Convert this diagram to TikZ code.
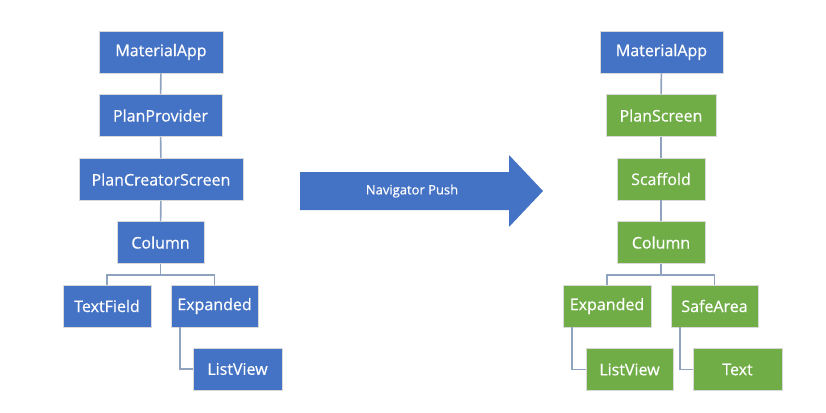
\documentclass[tikz,border=0pt]{standalone}
\usepackage{fontspec}
\setmainfont{Open Sans}
\newfontfamily\boxfont{Open Sans}[FakeBold=0.5]
\definecolor{fblue}{HTML}{4472C4}
\definecolor{fgreen}{HTML}{70AD47}
\definecolor{conn}{HTML}{8FA2BE}
\begin{document}
\begin{tikzpicture}[x=1pt,y=-1pt,
  box/.style={draw=white!85!black,line width=0.6pt,text=white,inner sep=0pt,
    font=\boxfont\fontsize{16}{18}\selectfont,minimum height=42pt},
  bbox/.style={box,fill=fblue},
  gbox/.style={box,fill=fgreen},
  link/.style={draw=conn,line width=1.6pt}]
\useasboundingbox (0,0) rectangle (826,412);
% left tree
\node[bbox,minimum width=124pt] (lma) at (161,52) {MaterialApp};
\node[bbox,minimum width=123pt] (lpp) at (160.5,115.5) {PlanProvider};
\node[bbox,minimum width=164pt] (lpcs) at (161,179.5) {PlanCreatorScreen};
\node[bbox,minimum width=87pt] (lcol) at (160.5,242.5) {Column};
\node[bbox,minimum width=88pt] (ltf) at (107,306) {TextField};
\node[bbox,minimum width=87pt] (lexp) at (214.5,306) {Expanded};
\node[bbox,minimum width=89pt] (llv) at (237.5,369) {ListView};
% right tree
\node[bbox,minimum width=123pt] (rma) at (661.5,52) {MaterialApp};
\node[gbox,minimum width=110pt] (rps) at (661,115.5) {PlanScreen};
\node[gbox,minimum width=88pt] (rsc) at (661,179) {Scaffold};
\node[gbox,minimum width=88pt] (rcol) at (661,242.5) {Column};
\node[gbox,minimum width=88pt] (rexp) at (607,306) {Expanded};
\node[gbox,minimum width=87pt] (rsa) at (714.5,306) {SafeArea};
\node[gbox,minimum width=87pt] (rlv) at (629.5,369.5) {ListView};
\node[gbox,minimum width=89pt] (rtx) at (737.5,369.5) {Text};
% connectors left
\draw[link] (lma) -- (lpp);
\draw[link] (lpp) -- (lpcs);
\draw[link] (lpcs) -- (lcol);
\coordinate (lbr) at (160.5,275);
\draw[link] (lcol.south) -- (lbr);
\draw[link] (ltf.north) |- (lbr) -| (lexp.north);
\draw[link] ([xshift=9pt]lexp.south west) |- (llv.west);
% connectors right
\draw[link] (rma) -- (rps);
\draw[link] (rps) -- (rsc);
\draw[link] (rsc) -- (rcol);
\coordinate (rbr) at (661,275);
\draw[link] (rcol.south) -- (rbr);
\draw[link] (rexp.north) |- (rbr) -| (rsa.north);
\draw[link] ([xshift=9pt]rexp.south west) |- (rlv.west);
\draw[link] ([xshift=9pt]rsa.south west) |- (rtx.west);
% arrow
\fill[fblue] (300,172) -- (509,172) -- (509,155) -- (543,191) -- (509,227) -- (509,210) -- (300,210) -- cycle;
\node[text=white,font=\boxfont\fontsize{13}{15}\selectfont] (nav) at (412,191) {Navigator Push};
\end{tikzpicture}
\end{document}
